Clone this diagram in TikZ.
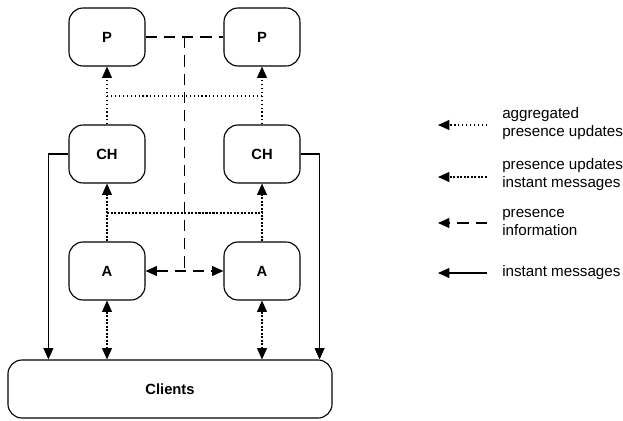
\documentclass[tikz,border=0pt]{standalone}
\usepackage{fontspec}
\setmainfont{Liberation Sans}
\usetikzlibrary{arrows.meta}

\tikzset{
    box/.style={draw,thick,rounded corners=10pt,minimum width=1.9cm,minimum height=1.45cm,font=\fontsize{10.5}{12}\selectfont\bfseries},
    aggr/.style={thick,dotted},
    upd/.style={thick,dash pattern=on 1.5pt off 1pt},
    pinfo/.style={thick,dash pattern=on 8pt off 5pt},
    im/.style={thick},
    legtext/.style={anchor=west,align=left,inner sep=0pt,font=\fontsize{10.8}{12.8}\selectfont},
    tip/.style={-{Triangle[length=8pt,width=7pt]}},
    tips/.style={{Triangle[length=8pt,width=7pt]}-{Triangle[length=8pt,width=7pt]}}
}

\begin{document}
\begin{tikzpicture}[x=0.025cm,y=-0.025cm]
        \useasboundingbox (0,0) rectangle (623,420);
        \node[box] (pl) at (107,37) {P};
        \node[box] (pr) at (262,37) {P};
        \node[box] (chl) at (107,154) {CH};
        \node[box] (chr) at (262,154) {CH};
        \node[box] (al) at (107,271) {A};
        \node[box] (ar) at (262,271) {A};
        \node[box,minimum width=8.1cm] (cl) at (170,389) {Clients};
        \draw[aggr,tip] (chl.north) -- (pl.south);
        \draw[aggr,tip] (chr.north) -- (pr.south);
        \draw[aggr] (107,96) -- (262,96);
        \draw[upd,tip] (al.north) -- (chl.south);
        \draw[upd,tip] (ar.north) -- (chr.south);
        \draw[upd] (107,213) -- (262,213);
        \draw[upd,tips] (al.south) -- (al.south |- cl.north);
        \draw[upd,tips] (ar.south) -- (ar.south |- cl.north);
        \draw[pinfo] (pl.east) -- (pr.west);
        \coordinate (top) at (184.5,37);
        \draw[pinfo] (top) -- (top |- al.east);
        \draw[pinfo,tips] (al.east) -- (ar.west);
        \draw[im,tip] (chl.west) -- ++(-20,0) coordinate (bl) -- (bl |- cl.north);
        \draw[im,tip] (chr.east) -- ++(19,0) coordinate (br) -- (br |- cl.north);
        % legend
        \node[legtext] (t1) at (502,124) {aggregated\\presence updates};
        \node[legtext] (t2) at (502,175) {presence updates\\instant messages};
        \node[legtext] (t3) at (502,222) {presence\\information};
        \node[legtext] (t4) at (502,273) {instant messages};
        \coordinate (e1) at (487,125); \coordinate (s1) at (438,125);
        \coordinate (e2) at (487,177); \coordinate (s2) at (438,177);
        \coordinate (e3) at (487,223); \coordinate (s3) at (438,223);
        \coordinate (e4) at (487,273); \coordinate (s4) at (438,273);
        \draw[aggr,tip] (e1) -- (s1);
        \draw[upd,tip] (e2) -- (s2);
        \draw[pinfo,tip] (e3) -- (s3);
        \draw[im,tip] (e4) -- (s4);
    \end{tikzpicture}
\end{document}
